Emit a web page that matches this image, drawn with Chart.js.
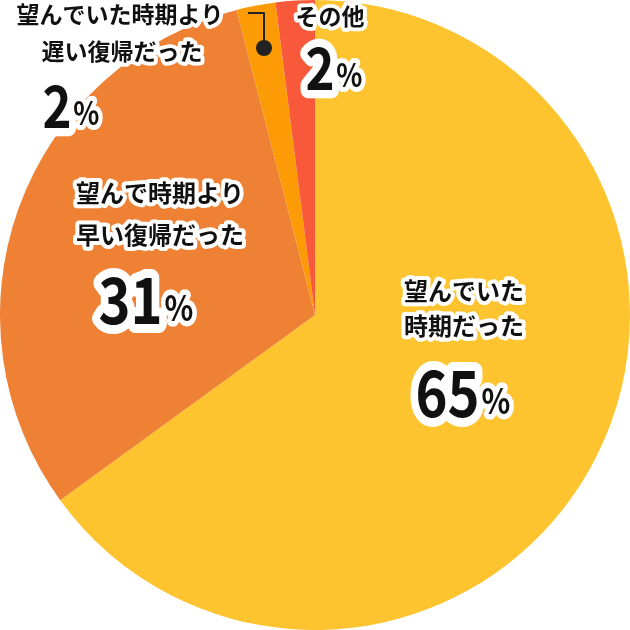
<!DOCTYPE html>
<html><head><meta charset="utf-8">
<script src="https://cdn.jsdelivr.net/npm/chart.js@4/dist/chart.umd.min.js"></script>
<style>html,body{margin:0;padding:0;background:#fff}#w{width:630px;height:630px}</style>
</head><body><div id="w"><canvas id="c"></canvas></div>
<script>
const categories = ["望んでいた時期だった","望んで時期より早い復帰だった","望んでいた時期より遅い復帰だった","その他"];
const values = [65, 31, 2, 2];
const colors = ["#FDC42F","#EE8134","#FC9B05","#F9593B"];
const F = '"Noto Sans CJK JP", sans-serif';
function out(ctx, t, x, y, size, align){
  ctx.font = `bold ${size}px ${F}`; ctx.textAlign = align||'center'; ctx.textBaseline='middle';
  ctx.lineJoin='round'; ctx.strokeStyle='#fff'; ctx.lineWidth=size/4+2; ctx.strokeText(t,x,y);
  ctx.fillStyle='#111'; ctx.fillText(t,x,y);
}
function pct(ctx, v, x, y, size){
  const s = String(v), sx = 0.85;
  ctx.font = `bold ${size}px ${F}`; const w1 = ctx.measureText(s).width;
  ctx.font = `bold ${size*0.55}px ${F}`; const w2 = ctx.measureText('%').width;
  ctx.save(); ctx.translate(x,0); ctx.scale(sx,1);
  const x0 = -(w1+w2)/2;
  out(ctx, s, x0, y, size, 'left');
  out(ctx, '%', x0+w1+2, y+size*0.12, size*0.55, 'left');
  ctx.restore();
}
const labels = {
  id:'labels',
  afterDraw(chart){
    const ctx = chart.ctx; ctx.save();
    out(ctx,'望んでいた',464,291,24); out(ctx,'時期だった',464,326,24); pct(ctx,values[0],462,393,64);
    out(ctx,'望んで時期より',160,193,24); out(ctx,'早い復帰だった',160,235,24); pct(ctx,values[1],145,300,64);
    out(ctx,'望んでいた時期より',120,14,23); out(ctx,'遅い復帰だった',122,51,23); pct(ctx,values[2],70,106,58);
    out(ctx,'その他',330,16,23); pct(ctx,values[3],333,68,58);
    ctx.strokeStyle='#222'; ctx.lineWidth=2; ctx.beginPath();
    ctx.moveTo(248,13); ctx.lineTo(264,13); ctx.lineTo(264,45); ctx.stroke();
    ctx.fillStyle='#222'; ctx.beginPath(); ctx.arc(264,48,8,0,Math.PI*2); ctx.fill();
    ctx.restore();
  }
};
new Chart(document.getElementById('c'),{
  type:'pie',
  data:{labels:categories,datasets:[{data:values,backgroundColor:colors,borderWidth:0}]},
  options:{responsive:true,maintainAspectRatio:false,animation:false,layout:{padding:0},
    plugins:{legend:{display:false},tooltip:{enabled:false}}},
  plugins:[labels]
});
</script></body></html>
